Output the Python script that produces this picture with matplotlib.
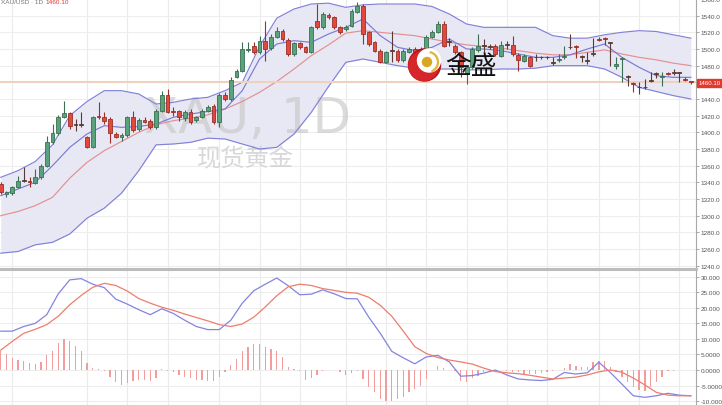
import matplotlib
matplotlib.use('Agg')
import matplotlib.pyplot as plt
import numpy as np
from matplotlib.patches import Circle, Arc, Rectangle
from matplotlib.lines import Line2D

# ---------------- data ----------------
opens = [1338,1326,1327,1334,1342,1342,1339,1346,1360,1388,
         1399,1419,1423,1409,1409,1394,1383,1420,1418,1416,
         1398,1394,1397,1418,1404,1415,1413,1406,1426,1445,
         1426,1425,1417,1425,1415,1419,1426,1432,1412,1445,
         1440,1467,1474,1499,1503,1496,1510,1501,1515,1522,
         1511,1494,1507,1502,1497,1534,1526,1541,1538,1526,
         1524,1528,1545,1552,1520,1508,1498,1485,1498,1498,
         1487,1497,1500,1495,1500,1515,1521,1530,1509,1504,
         1496,1471,1478,1499,1504,1503,1504,1492,1505,1505,
         1493,1486,1490,1490,1490,1490,1483,1487,1490,1502,
         1503,1491,1486,1494,1512,1513,1507,1480,1488,1467,
         1459,1454,1454,1462,1470,1466,1471,1471,1471,1464,
         1461]
highs = [1340,1330,1336,1348,1358,1346,1356,1362,1396,1410,
         1421,1438,1425,1416,1424,1396,1420,1436,1424,1418,
         1400,1399,1420,1426,1417,1418,1416,1428,1450,1452,
         1430,1427,1427,1428,1420,1428,1433,1434,1447,1448,
         1467,1476,1509,1509,1508,1516,1534,1518,1526,1524,
         1513,1509,1509,1504,1528,1554,1544,1543,1540,1528,
         1529,1548,1556,1554,1522,1510,1500,1498,1522,1500,
         1500,1502,1503,1502,1517,1523,1534,1534,1513,1506,
         1498,1480,1502,1518,1512,1506,1506,1510,1510,1516,
         1495,1494,1492,1494,1492,1492,1490,1494,1504,1518,
         1505,1493,1496,1513,1514,1515,1509,1491,1490,1469,
         1461,1460,1464,1472,1472,1472,1473,1476,1473,1466,
         1462]
lows = [1326,1322,1325,1333,1340,1334,1338,1344,1358,1386,
        1397,1417,1404,1402,1406,1381,1381,1416,1410,1387,
        1393,1390,1395,1401,1402,1411,1404,1404,1424,1423,
        1420,1414,1414,1410,1413,1417,1424,1410,1406,1438,
        1438,1465,1472,1497,1494,1494,1486,1499,1513,1510,
        1492,1492,1500,1495,1495,1524,1524,1536,1524,1518,
        1522,1526,1543,1506,1504,1496,1483,1483,1484,1485,
        1485,1495,1493,1490,1498,1513,1519,1502,1504,1494,
        1466,1458,1476,1497,1496,1500,1492,1490,1500,1492,
        1474,1484,1478,1486,1488,1488,1481,1485,1488,1500,
        1489,1484,1482,1492,1510,1505,1480,1476,1460,1456,
        1449,1446,1452,1460,1465,1456,1469,1469,1461,1462,
        1458]
closes = [1328,1328,1334,1342,1342,1340,1346,1360,1388,1399,
          1419,1423,1408,1409,1409,1383,1418,1418,1414,1399,
          1395,1397,1418,1403,1415,1413,1406,1426,1445,1425,
          1424,1418,1425,1413,1418,1426,1431,1412,1445,1440,
          1463,1474,1500,1500,1496,1510,1500,1515,1522,1512,
          1494,1507,1502,1497,1526,1526,1542,1538,1526,1520,
          1527,1546,1552,1518,1506,1498,1485,1496,1498,1487,
          1498,1500,1495,1500,1515,1521,1530,1504,1509,1496,
          1478,1478,1500,1504,1504,1503,1494,1505,1505,1494,
          1487,1492,1480,1490,1490,1490,1483,1488,1492,1502,
          1502,1491,1486,1494,1511,1512,1507,1482,1489,1467,
          1458,1454,1454,1462,1470,1467,1470,1471,1471,1463,
          1460.1]

# Bollinger band (every 3rd bar) and short moving average
band_step = 3
upper = [1346,1354,1365,1385,1420,1437,1450,1450,1446,1434,
         1436,1440,1442,1450,1460,1503,1537,1548,1554,1555,
         1550,1553,1554,1554,1554,1551,1542,1530,1526,1526,
         1526,1526,1516,1513,1513,1517,1520,1522,1521,1517,
         1513]
middle = [1300,1305,1312,1322,1345,1364,1378,1389,1400,1409,
          1414,1417,1421,1428,1437,1448,1461,1476,1492,1505,
          1519,1522,1520,1518,1516,1512,1508,1505,1503,1501,
          1498,1495,1493,1493,1496,1499,1494,1490,1487,1483,
          1480]
lower = [1255,1257,1265,1268,1278,1297,1309,1327,1354,1385,
         1386,1388,1393,1392,1386,1380,1382,1398,1424,1455,
         1484,1488,1484,1480,1477,1476,1476,1475,1475,1476,
         1476,1477,1480,1480,1480,1476,1466,1454,1449,1444,
         1440]
short_ma = [1324,1332,1340,1360,1382,1398,1408,1406,1407,1410,
            1418,1422,1425,1428,1450,1488,1506,1510,1508,1518,
            1526,1536,1516,1502,1498,1502,1512,1500,1500,1498,
            1494,1490,1490,1493,1500,1506,1490,1478,1468,1466,
            1466]

# MACD (lines every 2nd bar, histogram every bar)
macd_step = 2
dif = [12.5,12.5,14.0,15.0,17.8,24.5,29.0,29.4,27.6,26.5,
       22.8,21.2,19.4,17.8,19.7,18.2,16.0,14.0,13.0,13.0,
       16.0,21.5,25.5,27.6,29.6,27.1,24.2,24.4,25.8,24.5,
       23.0,22.9,17.0,11.8,6.0,3.9,2.0,4.2,4.7,2.6,
       -2.0,-1.8,-1.0,0.0,-1.6,-2.9,-3.2,-3.4,-3.0,-0.8,
       -1.3,-0.9,2.5,-0.8,-4.5,-8.3,-8.8,-8.3,-7.5,-8.1,
       -8.3]
dea = [6.4,9.2,11.8,13.1,14.6,17.3,21.0,24.0,26.6,27.9,
       27.2,25.4,23.0,21.5,20.2,19.2,18.0,16.9,15.8,14.6,
       14.0,14.8,17.0,20.3,23.9,26.8,27.6,27.2,26.2,25.6,
       25.0,24.7,23.4,20.8,17.3,12.5,7.5,5.3,4.0,3.2,
       2.6,1.9,0.6,-0.5,-0.9,-1.2,-1.7,-2.3,-2.9,-2.6,
       -2.3,-1.6,-0.6,0.0,-0.7,-2.6,-4.8,-7.2,-8.1,-8.3,
       -8.3]
hist = [6.2,5.2,3.9,3.3,2.9,2.3,1.8,2.6,4.7,6.2,
        8.6,9.9,9.2,7.8,6.0,2.3,0.5,0.2,-0.2,-2.3,
        -3.9,-4.7,-4.2,-3.6,-3.1,-3.3,-3.6,-2.6,0.2,-0.2,
        -0.8,-1.6,-2.1,-2.6,-3.1,-3.3,-3.6,-3.6,-2.1,-0.5,
        1.6,3.6,6.0,7.5,8.3,8.5,7.5,6.8,6.0,4.2,
        1.0,0.2,-0.2,-3.1,-2.6,-1.6,-0.2,0.0,0.0,-0.8,
        -1.6,-1.0,-0.2,-2.9,-5.6,-7.2,-9.3,-9.9,-9.9,-9.3,
        -8.8,-7.2,-6.1,-5.0,-2.9,0.0,1.4,0.6,0.1,-0.2,
        -3.4,-4.0,-2.6,-1.8,-0.8,-0.2,0.0,0.0,-0.2,-0.8,
        -0.8,-1.3,-1.3,-1.3,-1.1,-0.8,-0.4,0.0,0.6,1.9,
        1.4,0.9,0.9,2.5,2.8,3.0,1.1,-0.8,-2.4,-4.0,
        -5.6,-6.4,-6.7,-5.6,-4.0,-2.4,-0.4,-0.2,0.0,0.0,
        0.0]

last_price = 1460.10
price_ticks = list(range(1240, 1561, 20))
macd_ticks = [-10, -5, 0, 5, 10, 15, 20, 25, 30]
macd_labels = ["-10.000", "-5.0000", "0.0000", "5.0000", "10.000",
               "15.000", "20.000", "25.000", "30.000"]
grid_bars = [2, 15, 22, 29, 38, 45, 52, 60, 67, 74, 81, 88, 95, 104, 111, 118]

# ---------------- figure ----------------
W, H = 722, 406
fig = plt.figure(figsize=(W / 100, H / 100), dpi=100)
fig.patch.set_facecolor('white')
plt.rcParams['font.family'] = ['Liberation Sans', 'DejaVu Sans']

def fx(px):
    return px / W

def fy(py):
    return 1 - py / H

axp = fig.add_axes([0, 137 / H, 696 / W, 269 / H])
axm = fig.add_axes([0, 0, 696 / W, 136 / H])

n = len(opens)
idx = np.arange(n)
xl = (-0.13, 120.9)

for ax in (axp, axm):
    ax.set_xlim(*xl)
    ax.set_facecolor('white')
    for s in ('top', 'left', 'bottom'):
        ax.spines[s].set_visible(False)
    ax.spines['right'].set_color('#a8a8a8')
    ax.spines['right'].set_linewidth(0.8)
    ax.yaxis.tick_right()
    ax.tick_params(axis='y', labelsize=4.6, colors='#9a9a9a', labelcolor='#555555',
                   length=2.0, width=0.6, pad=1.2)
    ax.set_xticks([])
    for g in grid_bars:
        ax.axvline(g, color='#ebebeb', lw=0.8, zorder=0)

# price panel
axp.set_ylim(1237.2, 1560)
axp.set_yticks(price_ticks)
axp.set_yticklabels(["" if abs(t - last_price) < 5 else f"{t:.1f}" for t in price_ticks])
for t in price_ticks:
    axp.axhline(t, color='#ededed', lw=0.8, zorder=0)

bx = np.arange(0, n, band_step)
axp.fill_between(bx, lower, upper, color='#e8e8f5', lw=0, zorder=1)
axp.plot(bx, upper, color='#8181d9', lw=0.85, zorder=2)
axp.plot(bx, lower, color='#8181d9', lw=0.85, zorder=2)
axp.plot(bx, middle, color='#e39090', lw=0.85, zorder=2)
axp.plot(bx, short_ma, color='#7a7ad8', lw=0.85, zorder=2)

axp.axhline(last_price, color='#eed2bd', lw=1.5, zorder=2.2)

o = np.array(opens, float); h = np.array(highs, float)
l = np.array(lows, float); c = np.array(closes, float)
face, edge = [], []
for oo, cc in zip(o, c):
    if cc > oo:
        face.append('#5aa27c'); edge.append('#3a6f52')
    elif cc < oo:
        face.append('#e3483d'); edge.append('#9a3028')
    else:
        face.append('#5a3a34'); edge.append('#5a3a34')
bottom = np.minimum(o, c)
height = np.maximum(np.abs(c - o), 0.9)
axp.vlines(idx, l, h, colors=edge, lw=0.8, zorder=3)
axp.bar(idx, height, bottom=bottom, width=0.68, color=face, edgecolor=edge,
        linewidth=0.6, zorder=4)

# watermark
axp.text(fx(144), fy(133), "XAU, 1D", transform=fig.transFigure, fontsize=36,
         color='#c4c4c4', alpha=0.6, ha='left', va='baseline', zorder=1.5,
         family=['DejaVu Sans'])
axp.text(fx(197), fy(159), "现货黄金", transform=fig.transFigure, fontsize=17.5,
         color='#cfcfcf', alpha=0.8, ha='left', va='center', zorder=1.5,
         family=['Noto Sans CJK SC', 'DejaVu Sans'])

# logo
lax = fig.add_axes([fx(406), fy(85), fx(38), 38 / H], zorder=5)
lax.set_xlim(0, 38); lax.set_ylim(0, 38); lax.axis('off')
lax.add_patch(Circle((18.5, 19), 16, color='#b8141b'))
lax.add_patch(Circle((17.5, 18), 14.5, color='#d6262a'))
lax.add_patch(Circle((23, 23.5), 11.5, color='white'))
lax.add_patch(Circle((21, 22), 4.5, color='#d8a622'))
lax.add_patch(Arc((22, 22), 20, 20, theta1=-70, theta2=80, color='#e0b43a', lw=1.6))
fig.text(fx(445), fy(67), "金盛", fontsize=18.5, color='#111111', ha='left',
         va='center', family=['Noto Sans CJK SC', 'DejaVu Sans'], zorder=6)

# MACD panel
axm.set_ylim(-11.27, 32.5)
axm.set_yticks(macd_ticks)
axm.set_yticklabels(macd_labels)
for t in macd_ticks:
    axm.axhline(t, color='#ededed', lw=0.8, zorder=0)
axm.bar(idx, hist, width=0.24, color='#f29c9c', zorder=2)
mx = np.arange(0, n, macd_step)
axm.plot(mx, dif, color='#8484e0', lw=0.9, zorder=3)
axm.plot(mx, dea, color='#ee7d6c', lw=0.9, zorder=3)

# panel divider
fig.add_artist(Line2D([0, fx(696)], [fy(269.5), fy(269.5)], color='#bcbcbc', lw=2.2))

# last price tag
fig.add_artist(Rectangle((fx(697), fy(88)), fx(25), 8.5 / H, color='#e0392e'))
fig.text(fx(698.5), fy(83.7), f"{last_price:.2f}", fontsize=4.4, color='white',
         ha='left', va='center')

# header text at the top
fig.text(fx(1), fy(0.5), "XAU/USD · 1D", fontsize=4.6, color='#777777',
         ha='left', va='top')
fig.text(fx(45), fy(0.5), "1460.10", fontsize=4.6, color='#e0392e',
         ha='left', va='top')

fig.savefig('out.png', dpi=100)
